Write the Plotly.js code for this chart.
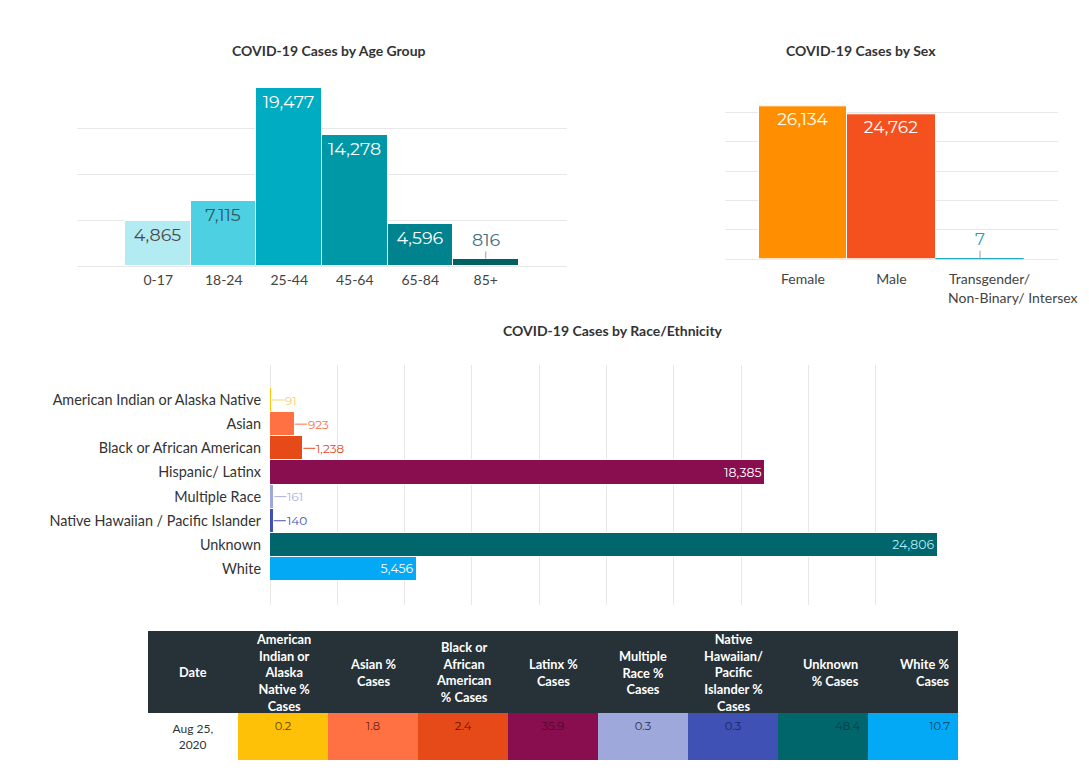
<!DOCTYPE html>
<html>
<head>
<meta charset="utf-8">
<script src="https://cdn.plot.ly/plotly-3.0.1.min.js"></script>
<style>
  html, body { margin: 0; padding: 0; background: #fff; }
  #chart { width: 1089px; height: 770px; }
</style>
</head>
<body>
<div id="chart"></div>
<script>
// ---------- DATA ----------
const ageGroups = ['0-17', '18-24', '25-44', '45-64', '65-84', '85+'];
const ageCases = [4865, 7115, 19477, 14278, 4596, 816];
const ageColors = ['#b2ebf2', '#4dd0e1', '#00acc1', '#0097a7', '#00838f', '#006064'];
const ageTextColors = ['#4a4a4a', '#2f5866', '#ffffff', '#ffffff', '#ffffff', '#3f6f7c'];

const sexCategories = ['Female', 'Male', 'Transgender/<br>Non-Binary/ Intersex'];
const sexTickText = ['Female', 'Male', 'Transgender/' + '\u00a0'.repeat(13) + '<br>Non-Binary/ Intersex'];
const sexCases = [26134, 24762, 7];
const sexColors = ['#ff8f00', '#f4511e', '#0aa1b8'];
const sexTextColors = ['#ffffff', '#ffffff', '#1fa3c0'];

const raceCategories = ['American Indian or Alaska Native', 'Asian', 'Black or African American',
  'Hispanic/ Latinx', 'Multiple Race', 'Native Hawaiian / Pacific Islander', 'Unknown', 'White'];
const raceCases = [91, 923, 1238, 18385, 161, 140, 24806, 5456];
const raceColors = ['#ffc107', '#ff7043', '#e64a19', '#880e4f', '#9fa8da', '#3f51b5', '#00666b', '#03a9f4'];
const raceTextColors = ['#f5d36a', '#ff7043', '#e64a19', '#ffffff', '#a9b1e0', '#3f51b5', '#b2ebf2', '#ffffff'];

const tableDate = ['Aug 25,<br>\u00a0\u00a02020'];
const tableHeaders = ['Date', 'American<br>Indian or<br>Alaska<br>Native %<br>Cases', 'Asian %<br>Cases',
  'Black or<br>African<br>American<br>% Cases', 'Latinx %<br>Cases', 'Multiple<br>Race %<br>Cases',
  'Native<br>Hawaiian/<br>Pacific<br>Islander %<br>Cases', 'Unknown<br>% Cases', 'White %<br>Cases'];
const tablePct = [0.2, 1.8, 2.4, 35.9, 0.3, 0.3, 48.4, 10.7];
const tableTextColors = ['#5a4300', '#6a2410', '#5c1808', '#4a0a2a', '#2e3350', '#1c2560', '#083c3e', '#0a4766'];
const tableAlign = ['center', 'center', 'center', 'center', 'center', 'center', 'center', 'right', 'right'];

// ---------- HELPERS ----------
const W = 1089, H = 770;
const px = v => v / W;
const py = v => 1 - v / H;
const fmt = v => v.toLocaleString('en-US');
const valueFont = 'Montserrat, Inter, "Open Sans", sans-serif';
const labelFont = 'Lato, "Open Sans", sans-serif';

// ---------- TRACES ----------
const ageTrace = {
  type: 'bar', x: ageGroups, y: ageCases, xaxis: 'x', yaxis: 'y',
  marker: { color: ageColors, line: { color: '#ffffff', width: 1 } },
  text: ageCases.map(v => v < 2000 ? '' : fmt(v)),
  textposition: 'inside', insidetextanchor: 'end',
  textfont: { family: valueFont, size: 17.5, color: ageTextColors },
  hoverinfo: 'x+y', cliponaxis: false
};

const sexTrace = {
  type: 'bar', x: sexCategories, y: sexCases, xaxis: 'x2', yaxis: 'y2',
  marker: { color: sexColors, line: { color: ['#ffffff', '#ffffff', sexColors[2]], width: 1 } },
  text: sexCases.map(v => v < 2000 ? '' : fmt(v)),
  textposition: 'inside', insidetextanchor: 'end',
  textfont: { family: valueFont, size: 17, color: sexTextColors },
  hoverinfo: 'x+y', cliponaxis: false
};

const raceTrace = {
  type: 'bar', orientation: 'h', y: raceCategories, x: raceCases, xaxis: 'x3', yaxis: 'y3',
  marker: { color: raceColors, line: { color: '#ffffff', width: 1 } },
  text: raceCases.map(v => v < 3000 ? '' : fmt(v)),
  textposition: 'inside', insidetextanchor: 'end',
  textfont: { family: valueFont, size: 12.5, color: raceTextColors },
  hoverinfo: 'x+y', cliponaxis: false
};

// table geometry (header text is drawn as centred annotations over the table header)
const tblX0 = 148, tblX1 = 958, tblTop = 631, headerH = 82, cellH = 39;
const colFills = ['#ffffff'].concat(raceColors);
const tableTrace = {
  type: 'table',
  domain: { x: [px(tblX0), px(tblX1)], y: [py(768), py(tblTop)] },
  columnwidth: tableHeaders.map(() => 1),
  header: {
    values: tableHeaders.map(() => ''),
    fill: { color: '#273238' },
    line: { color: '#273238', width: 0 },
    height: headerH
  },
  cells: {
    values: [tableDate].concat(tablePct.map(v => [v.toFixed(1)])),
    fill: { color: colFills },
    line: { color: colFills, width: 0 },
    align: tableAlign,
    font: { family: [labelFont].concat(tablePct.map(() => valueFont)), size: [12, 11.5, 11.5, 11.5, 11.5, 11.5, 11.5, 11.5, 11.5],
            color: ['#333333'].concat(tableTextColors) },
    height: cellH
  }
};

// ---------- ANNOTATIONS ----------
const titleFont = { family: labelFont, size: 14, color: '#333333', weight: 'bold' };
const annotations = [
  { xref: 'paper', yref: 'paper', x: px(329), y: py(50), xanchor: 'center', yanchor: 'middle', text: 'COVID-19 Cases by Age Group', showarrow: false, font: titleFont },
  { xref: 'paper', yref: 'paper', x: px(861), y: py(50), xanchor: 'center', yanchor: 'middle', text: 'COVID-19 Cases by Sex', showarrow: false, font: titleFont },
  { xref: 'paper', yref: 'paper', x: px(613), y: py(330), xanchor: 'center', yanchor: 'middle', text: 'COVID-19 Cases by Race/Ethnicity', showarrow: false, font: titleFont }
];
ageCases.forEach((v, i) => {
  if (v < 2000) annotations.push({
    xref: 'x', yref: 'y', x: ageGroups[i], y: v, text: fmt(v), showarrow: true,
    arrowhead: 0, arrowwidth: 1, arrowcolor: '#9e9e9e', ax: 0, ay: -19, standoff: 0,
    font: { family: valueFont, size: 17.5, color: ageTextColors[i] }
  });
});
sexCases.forEach((v, i) => {
  if (v < 2000) annotations.push({
    xref: 'x2', yref: 'y2', x: sexCategories[i], y: v, text: fmt(v), showarrow: true,
    arrowhead: 0, arrowwidth: 1, arrowcolor: '#9e9e9e', ax: 0, ay: -20, standoff: 0,
    font: { family: valueFont, size: 17, color: sexTextColors[i] }
  });
});
raceCases.forEach((v, i) => {
  if (v < 3000) annotations.push({
    xref: 'x3', yref: 'y3', x: v, y: raceCategories[i], text: fmt(v), showarrow: true,
    arrowhead: 0, arrowwidth: 1, arrowcolor: raceTextColors[i], ax: 12, ay: 0, standoff: 0,
    xanchor: 'left', borderpad: 0,
    font: { family: valueFont, size: 12, color: raceTextColors[i] }
  });
});
// table header labels, one per column, centred in the header band
const colW = (tblX1 - tblX0) / tableHeaders.length;
tableHeaders.forEach((h, i) => {
  const right = tableAlign[i] === 'right';
  annotations.push({
    xref: 'paper', yref: 'paper',
    x: px(right ? tblX0 + colW * (i + 1) - 7 : tblX0 + colW * (i + 0.5)),
    y: py(tblTop + headerH / 2),
    xanchor: right ? 'right' : 'center', yanchor: 'middle', align: right ? 'right' : 'center',
    text: h, showarrow: false,
    font: { family: labelFont, size: 12.8, color: '#ffffff', weight: 'bold' }
  });
});

// ---------- LAYOUT ----------
const gridColor = '#e8e8e8';
const layout = {
  width: W, height: H,
  margin: { l: 0, r: 0, t: 0, b: 0 },
  paper_bgcolor: '#ffffff', plot_bgcolor: '#ffffff',
  showlegend: false, bargap: 0,
  font: { family: labelFont, color: '#444444' },
  xaxis: {
    domain: [px(77), px(567)], anchor: 'y', type: 'category',
    range: [-1.24, 6.24], showgrid: false, zeroline: false, showline: false,
    ticks: '', tickfont: { family: labelFont, size: 14, color: '#444444' }, ticklabelstandoff: 4,
    fixedrange: true
  },
  yaxis: {
    domain: [py(266), py(83)], anchor: 'x', range: [0, 20000], dtick: 5000,
    showgrid: true, gridcolor: gridColor, zeroline: true, zerolinecolor: gridColor, zerolinewidth: 1,
    showticklabels: false, ticks: '', fixedrange: true
  },
  xaxis2: {
    domain: [px(725), px(1058)], anchor: 'y2', type: 'category',
    range: [-0.88, 2.88], showgrid: false, zeroline: false, showline: false,
    tickmode: 'array', tickvals: [0, 1, 2.37], ticktext: sexTickText,
    ticks: '', tickfont: { family: labelFont, size: 14, color: '#444444' }, ticklabelstandoff: 10,
    fixedrange: true
  },
  yaxis2: {
    domain: [py(259.3), py(83.3)], anchor: 'x2', range: [0, 30000], dtick: 5000,
    showgrid: true, gridcolor: gridColor, zeroline: true, zerolinecolor: gridColor, zerolinewidth: 1,
    showticklabels: false, ticks: '', fixedrange: true
  },
  xaxis3: {
    domain: [px(270), px(943)], anchor: 'y3', range: [0, 25000], dtick: 2500,
    showgrid: true, gridcolor: gridColor, zeroline: true, zerolinecolor: gridColor, zerolinewidth: 1,
    showticklabels: false, ticks: '', fixedrange: true
  },
  yaxis3: {
    domain: [py(605), py(365)], anchor: 'x3', type: 'category',
    range: [8.49, -1.45], showgrid: false, zeroline: false, showline: false,
    ticks: '', tickfont: { family: labelFont, size: 14.4, color: '#333333' }, ticklabelstandoff: 8,
    fixedrange: true
  },
  annotations: annotations
};

Plotly.newPlot('chart', [ageTrace, sexTrace, raceTrace, tableTrace], layout, { displayModeBar: false });
</script>
</body>
</html>
